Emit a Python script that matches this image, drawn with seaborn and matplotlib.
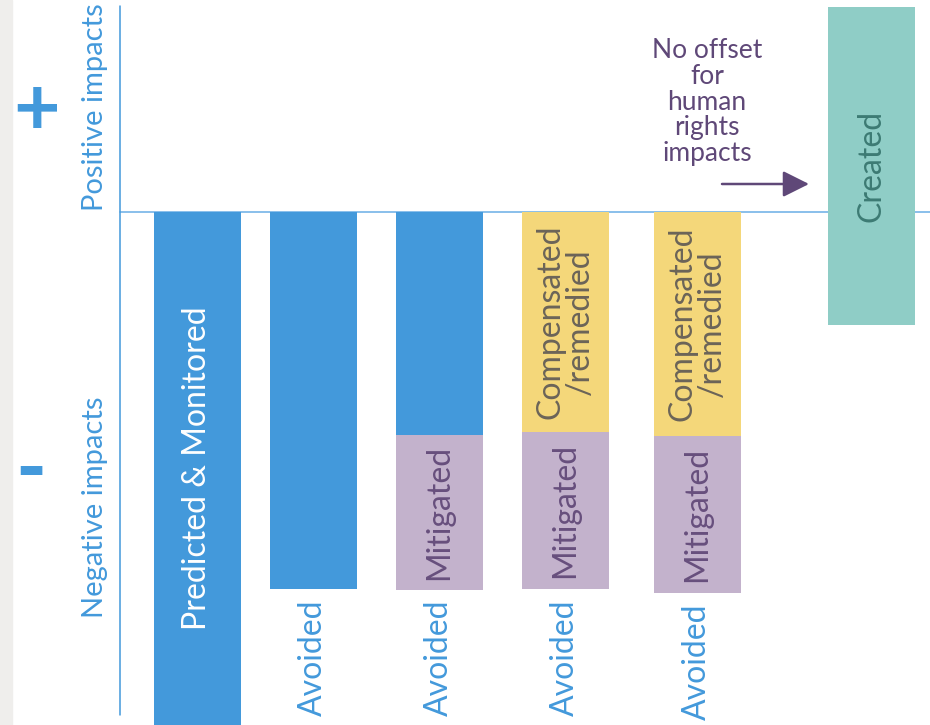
import matplotlib
matplotlib.use("Agg")
import matplotlib.pyplot as plt
from matplotlib.patches import Rectangle
import seaborn as sns
import numpy as np
import pandas as pd

# ---------------- data (impact magnitudes, arbitrary units) ----------------
stages = ["Predicted", "Avoid", "Mitigate", "Compensate", "Compensate (HR)", "Create"]
blue_residual = [-540, -377, -223, 0, 0, 0]      # predicted / remaining after avoidance
compensated = [0, 0, 0, -220, -224, 0]            # compensated / remedied
mitigated = [0, 0, -155, -157, -157, 0]           # mitigated
created_positive = [0, 0, 0, 0, 0, 205]           # positive impacts created
created_negative = [0, 0, 0, 0, 0, -113]          # part of created bar below zero

# ---------------- layout / style ----------------
x_pos = [197, 313, 439, 565, 697, 871]
BLUE = "#4399db"
PURPLE = "#c3b2cc"
YELLOW = "#f4d77a"
TEAL = "#8fcdc6"
FONT = ["Lato", "DejaVu Sans"]
W = "normal"

sns.set_theme(style="white")
plt.rcParams["font.family"] = FONT

fig = plt.figure(figsize=(9.3, 7.25), dpi=100)
fig.patches.append(Rectangle((0, 0), 12 / 930, 1, transform=fig.transFigure,
                             color="#efeeec", zorder=0))
ax = fig.add_axes([0, 0, 1, 1])
ax.patch.set_alpha(0)

blue_arr = np.array(blue_residual, dtype=float)
comp_arr = np.array(compensated, dtype=float)
mit_arr = np.array(mitigated, dtype=float)
cpos = np.array(created_positive, dtype=float)
cneg = np.array(created_negative, dtype=float)

mit_bottom = np.where(blue_arr != 0, blue_arr, comp_arr)
df = pd.DataFrame({"x": x_pos, "blue": blue_arr, "comp": comp_arr,
                   "mit": mit_arr, "created": cpos - cneg})

common = dict(x="x", native_scale=True, errorbar=None, width=0.75,
              linewidth=0, ax=ax, zorder=3)
sns.barplot(data=df, y="blue", color=BLUE, saturation=1, bottom=np.zeros(len(df)), **common)
sns.barplot(data=df, y="comp", color=YELLOW, saturation=1, bottom=np.zeros(len(df)), **common)
sns.barplot(data=df, y="mit", color=PURPLE, saturation=1, bottom=mit_bottom, **common)
sns.barplot(data=df, y="created", color=TEAL, saturation=1, bottom=cneg, **common)

ax.set_xlim(0, 930)
ax.set_ylim(-513, 212)
ax.axis("off")

# axes lines
ax.plot([120, 930], [0, 0], color="#6aaee6", lw=1.1, zorder=2)
ax.plot([120, 120], [206, -503], color=BLUE, lw=1.1, zorder=2)

# side labels
ax.text(37, 100, "+", color=BLUE, fontsize=58, fontweight="bold", ha="center", va="center")
ax.text(31, -261, "-", color=BLUE, fontsize=60, fontweight="bold", ha="center", va="center")
ax.text(95, 105, "Positive impacts", color=BLUE, fontsize=21, fontweight=W, rotation=90,
        ha="center", va="center")
ax.text(95, -295, "Negative impacts", color=BLUE, fontsize=21, fontweight=W, rotation=90,
        ha="center", va="center")

LS = 23
# bar labels
ax.text(x_pos[0], (0 + (-513)) / 2, "Predicted & Monitored", color="white",
        fontsize=LS, fontweight=W, rotation=90, ha="center", va="center", zorder=5)
for i in range(1, 5):
    total = min(blue_arr[i], comp_arr[i]) + mit_arr[i]
    ax.text(x_pos[i], total - 10, "Avoided", color=BLUE, fontsize=LS, fontweight=W,
            rotation=90, ha="center", va="top", zorder=5)
for i in range(2, 5):
    if mit_arr[i] != 0:
        ax.text(x_pos[i], mit_bottom[i] + mit_arr[i] / 2, "Mitigated", color="#674f7d",
                fontsize=LS, fontweight=W, rotation=90, ha="center", va="center", zorder=5)
for i in range(3, 5):
    ax.text(x_pos[i], comp_arr[i] / 2, "Compensated\n/remedied", color="#6b6458",
            fontsize=LS, fontweight=W, rotation=90, ha="center", va="center",
            multialignment="center", linespacing=1.0, zorder=5)
ax.text(x_pos[5], (cpos[5] + cneg[5]) / 2, "Created", color="#3d7b74", fontsize=LS,
        fontweight=W, rotation=90, ha="center", va="center", zorder=5)

# annotation
ax.text(707, 110, "No offset\nfor\nhuman\nrights\nimpacts", color="#5f4878",
        fontsize=19, fontweight=W, ha="center", va="center", linespacing=1.05)
ax.annotate("", xy=(809, 28), xytext=(722, 28),
            arrowprops=dict(arrowstyle="-|>,head_length=0.8,head_width=0.4",
                            color="#5f4878", lw=1.8, shrinkA=0, shrinkB=0,
                            mutation_scale=20))

fig.savefig("out.png", dpi=100)
